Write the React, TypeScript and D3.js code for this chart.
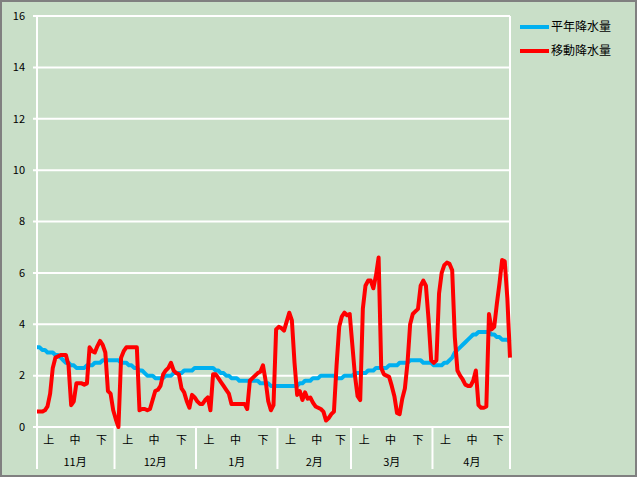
import React from 'react';
import * as d3 from 'd3';

const months = ['11月', '12月', '1月', '2月', '3月', '4月'];
const monthDays = [30, 31, 31, 28, 31, 30];
const dekads = ['上', '中', '下'];
const yTicks = [0, 2, 4, 6, 8, 10, 12, 14, 16];
const seriesNames = ['平年降水量', '移動降水量'];

// 平年降水量 (daily, Nov 1 - Apr 30)
const normal = [
  // Nov
  3.1, 3.1, 3.0, 3.0, 2.9, 2.9, 2.9, 2.8, 2.8, 2.7,
  2.6, 2.5, 2.5, 2.4, 2.4, 2.3, 2.3, 2.3, 2.3, 2.4,
  2.4, 2.4, 2.5, 2.5, 2.5, 2.6, 2.6, 2.6, 2.6, 2.6,
  // Dec
  2.6, 2.6, 2.5, 2.5, 2.5, 2.4, 2.4, 2.3, 2.3, 2.2,
  2.2, 2.1, 2.0, 2.0, 2.0, 1.9, 1.9, 1.9, 1.9, 2.0,
  2.0, 2.0, 2.1, 2.1, 2.1, 2.1, 2.2, 2.2, 2.2, 2.2, 2.3,
  // Jan
  2.3, 2.3, 2.3, 2.3, 2.3, 2.3, 2.3, 2.2, 2.2, 2.1,
  2.1, 2.0, 2.0, 1.9, 1.9, 1.9, 1.8, 1.8, 1.8, 1.8,
  1.8, 1.8, 1.8, 1.8, 1.7, 1.7, 1.7, 1.7, 1.6, 1.6, 1.6,
  // Feb
  1.6, 1.6, 1.6, 1.6, 1.6, 1.6, 1.6, 1.6, 1.7, 1.7,
  1.8, 1.8, 1.8, 1.9, 1.9, 1.9, 2.0, 2.0, 2.0, 2.0,
  2.0, 2.0, 1.9, 1.9, 1.9, 2.0, 2.0, 2.0,
  // Mar
  2.0, 2.1, 2.1, 2.1, 2.1, 2.1, 2.2, 2.2, 2.2, 2.3,
  2.3, 2.3, 2.3, 2.3, 2.4, 2.4, 2.4, 2.4, 2.5, 2.5,
  2.5, 2.5, 2.6, 2.6, 2.6, 2.6, 2.6, 2.5, 2.5, 2.5, 2.5,
  // Apr
  2.4, 2.4, 2.4, 2.4, 2.5, 2.5, 2.6, 2.7, 2.9, 3.0,
  3.1, 3.2, 3.3, 3.4, 3.5, 3.6, 3.6, 3.7, 3.7, 3.7,
  3.7, 3.7, 3.6, 3.6, 3.5, 3.5, 3.4, 3.4, 3.4, 3.3,
];

// 移動降水量 (daily, Nov 1 - Apr 30)
const moving = [
  // Nov
  0.6, 0.6, 0.6, 0.65, 0.8, 1.3, 2.3, 2.7, 2.75, 2.8,
  2.8, 2.8, 2.4, 0.85, 1.0, 1.7, 1.7, 1.7, 1.65, 1.7,
  3.1, 2.95, 2.9, 3.15, 3.35, 3.2, 2.9, 1.4, 1.3, 0.65,
  // Dec
  0.3, 0.0, 2.7, 2.95, 3.1, 3.1, 3.1, 3.1, 3.1, 0.65,
  0.7, 0.7, 0.65, 0.7, 1.05, 1.4, 1.45, 1.6, 2.05, 2.2,
  2.3, 2.5, 2.2, 2.1, 2.05, 1.5, 1.35, 1.0, 0.75, 1.25, 1.15,
  // Jan
  1.0, 0.9, 0.9, 1.05, 1.15, 0.65, 2.05, 2.05, 1.9, 1.75,
  1.6, 1.45, 1.3, 0.9, 0.9, 0.9, 0.9, 0.9, 0.9, 0.7,
  1.8, 1.9, 2.0, 2.1, 2.15, 2.4, 1.8, 1.0, 0.65, 0.85, 3.8,
  // Feb
  3.9, 3.85, 3.75, 4.1, 4.45, 4.15, 2.5, 1.25, 1.4, 1.05,
  1.35, 1.1, 1.15, 0.95, 0.8, 0.75, 0.7, 0.6, 0.25, 0.35,
  0.5, 0.6, 2.4, 3.9, 4.3, 4.45, 4.35, 4.4,
  // Mar
  3.2, 2.0, 1.2, 1.05, 4.6, 5.5, 5.7, 5.7, 5.4, 5.9,
  6.6, 2.3, 2.05, 2.0, 1.95, 1.6, 1.2, 0.55, 0.5, 1.1,
  1.5, 2.5, 4.0, 4.4, 4.5, 4.6, 5.5, 5.7, 5.5, 4.2, 2.6,
  // Apr
  2.5, 2.6, 5.2, 6.0, 6.3, 6.4, 6.35, 6.1, 3.5, 2.2,
  2.0, 1.85, 1.65, 1.6, 1.6, 1.8, 2.2, 0.85, 0.75, 0.75,
  0.8, 4.4, 3.8, 3.9, 4.8, 5.6, 6.5, 6.45, 5.0, 2.7,
];

const FONT = '"Noto Sans CJK JP", "Noto Sans", sans-serif';

export default function App() {
  const W = 640, H = 480;
  const left = 37, right = 510, top = 16, bottom = 427;
  const n = normal.length;
  const x = d3.scaleLinear().domain([0, n - 1]).range([left, right]);
  const y = d3.scaleLinear().domain([0, 16]).range([bottom, top]);
  const line = d3.line<number>().x((_, i) => x(i)).y((d) => y(d));

  const starts: number[] = [];
  let s = 0;
  monthDays.forEach((d) => { starts.push(s); s += d; });

  const sepX = [left, ...starts.slice(1).map((st) => x(st - 0.5)), right];

  const colors = ['#00B0F0', '#FF0000'];

  return (
    <svg width={W} height={H} style={{ position: 'absolute', left: 0, top: 0 }} fontFamily={FONT}>
      <rect x={0} y={0} width={W} height={H} fill="#ffffff" />
      <rect x={1} y={1} width={635} height={475} fill="#C9DFC8" stroke="#808080" strokeWidth={2} />
      {/* gridlines */}
      {yTicks.map((t) => (
        <g key={t}>
          <line x1={left - 4} x2={right} y1={y(t)} y2={y(t)} stroke="#ffffff" strokeWidth={2} />
          <text x={25} y={y(t)} dy="0.35em" textAnchor="end" fontSize={11} fill="#000">{t}</text>
        </g>
      ))}
      {/* vertical axis + separators */}
      {sepX.map((sx, i) => (
        <line key={i} x1={sx} x2={sx}
          y1={i === 0 || i === sepX.length - 1 ? top : bottom}
          y2={469} stroke="#ffffff" strokeWidth={2} />
      ))}
      {/* x labels */}
      {months.map((m, mi) => {
        const st = starts[mi];
        const nd = monthDays[mi];
        return (
          <g key={m}>
            {dekads.map((dk, k) => {
              const first = st + 10 * k;
              const last = k < 2 ? first + 9 : st + nd - 1;
              return (
                <text key={dk} x={x((first + last) / 2)} y={440} dy="0.35em" textAnchor="middle" fontSize={11} fill="#000">{dk}</text>
              );
            })}
            <text x={x(st + (nd - 1) / 2)} y={462} dy="0.35em" textAnchor="middle" fontSize={11} fill="#000">{m}</text>
          </g>
        );
      })}
      {/* series */}
      <path d={line(normal) || ''} fill="none" stroke={colors[0]} strokeWidth={4} strokeLinejoin="round" />
      <path d={line(moving) || ''} fill="none" stroke={colors[1]} strokeWidth={4} strokeLinejoin="round" />
      {/* legend */}
      {seriesNames.map((nm, i) => (
        <g key={nm}>
          <line x1={520} x2={549} y1={27 + i * 24} y2={27 + i * 24} stroke={colors[i]} strokeWidth={4} />
          <text x={551} y={27 + i * 24} dy="0.35em" fontSize={12} fill="#000">{nm}</text>
        </g>
      ))}
    </svg>
  );
}
